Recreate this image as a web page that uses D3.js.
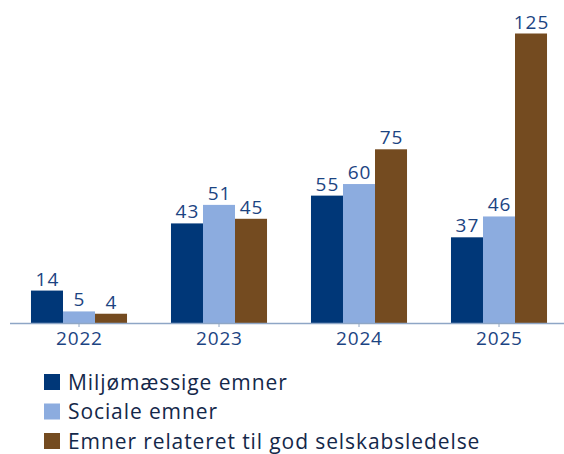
<!DOCTYPE html>
<html><head><meta charset="utf-8">
<script src="https://cdn.jsdelivr.net/npm/d3@7"></script>
<style>body{margin:0;background:#fff}svg{display:block}text{font-family:"Open Sans",sans-serif}</style>
</head><body><svg id="c" width="564" height="454"></svg>
<script>
const years = ["2022","2023","2024","2025"];
const seriesNames = ["Miljømæssige emner","Sociale emner","Emner relateret til god selskabsledelse"];
const miljo = [14,43,55,37];
const sociale = [5,51,60,46];
const ledelse = [4,45,75,125];
const colors = ["#003778","#8cacdf","#744b20"];
const series = [miljo, sociale, ledelse];

const svg = d3.select("#c");
const x0 = d3.scaleBand().domain(years).range([9,569]).paddingInner(0.314).paddingOuter(0.157);
const x1 = d3.scaleBand().domain(d3.range(3)).range([0,x0.bandwidth()]);
const y = d3.scaleLinear().domain([0,125]).range([323,33.5]);

const g = svg.append("g");
years.forEach((yr,i)=>{
  series.forEach((s,j)=>{
    const xx = x0(yr)+x1(j);
    g.append("rect").attr("x",xx).attr("y",y(s[i])).attr("width",x1.bandwidth()).attr("height",y(0)-y(s[i])).attr("fill",colors[j]);
    g.append("text").attr("x",xx+x1.bandwidth()/2+0.5).attr("y",y(s[i])-5).attr("text-anchor","middle")
      .attr("font-size",19).attr("letter-spacing",1).attr("fill","#1c4482").text(s[i]);
  });
});

const ax = svg.append("g").attr("transform","translate(0,323)")
  .call(d3.axisBottom(x0).tickSize(4).tickSizeOuter(0).tickPadding(5));
ax.select(".domain").attr("stroke","#8ea6c6").attr("stroke-width",1.5).attr("d","M10,0.5H564");
ax.selectAll(".tick line").attr("stroke","#8ea6c6");
ax.selectAll(".tick text").attr("font-size",19).attr("letter-spacing",0.8).attr("dx",0.4).attr("fill","#1c4482").attr("font-family","Open Sans, sans-serif");

const lg = svg.append("g");
seriesNames.forEach((n,i)=>{
  const cy = 382 + i*29.5;
  lg.append("rect").attr("x",44).attr("y",cy-8).attr("width",16).attr("height",16).attr("fill",colors[i]);
  lg.append("text").attr("x",68).attr("y",cy+7.5).attr("font-size",21).attr("letter-spacing",0.9).attr("fill","#14284a").text(n);
});
</script></body></html>
